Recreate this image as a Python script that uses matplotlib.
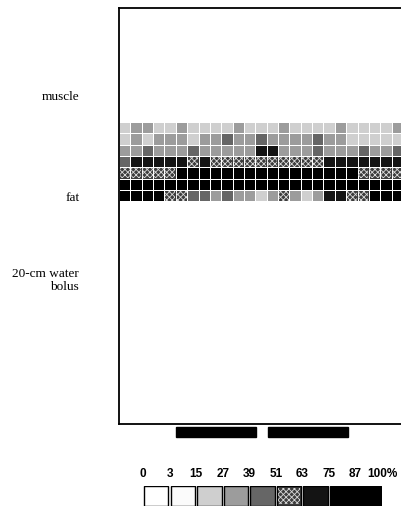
import numpy as np
import matplotlib
matplotlib.use('Agg')
import matplotlib.pyplot as plt
from matplotlib.colors import ListedColormap, BoundaryNorm
from matplotlib.patches import Rectangle

plt.rcParams['hatch.linewidth'] = 0.6

# percent bins used for the grey scale
levels = [0, 3, 15, 27, 39, 51, 63, 75, 87, 100]
level_labels = ['0', '3', '15', '27', '39', '51', '63', '75', '87', '100%']
bin_colors = ['#ffffff', '#fbfbfb', '#cfcfcf', '#9c9c9c', '#666666',
              '#3c3c3c', '#141414', '#000000', '#000000']
checker_bin = 5

# bin index (0..8) of each cell, 7 depth rows x 25 columns, top row first
sar_bins = [
    [2, 3, 3, 2, 2, 3, 2, 2, 2, 2, 3, 2, 2, 2, 3, 2, 2, 2, 2, 3, 2, 2, 2, 2, 3],
    [2, 3, 2, 3, 3, 3, 2, 3, 3, 4, 3, 3, 4, 3, 3, 3, 3, 4, 3, 3, 2, 2, 2, 2, 2],
    [3, 3, 4, 3, 3, 3, 4, 3, 3, 3, 3, 3, 6, 6, 3, 3, 3, 4, 3, 3, 3, 4, 3, 3, 4],
    [4, 6, 6, 6, 6, 6, 5, 6, 5, 5, 5, 5, 5, 5, 5, 5, 5, 5, 6, 6, 6, 6, 6, 6, 6],
    [5, 5, 5, 5, 5, 7, 7, 7, 7, 7, 7, 7, 7, 7, 7, 7, 7, 7, 7, 7, 7, 5, 5, 5, 5],
    [8, 8, 8, 8, 8, 8, 8, 8, 8, 8, 8, 8, 8, 8, 8, 8, 8, 8, 8, 8, 8, 8, 8, 8, 8],
    [7, 7, 7, 7, 5, 5, 4, 4, 3, 4, 3, 3, 2, 3, 5, 3, 2, 3, 6, 6, 5, 5, 7, 7, 7],
]

tissue_labels = ['muscle', 'fat', '20-cm water\nbolus']
tissue_y = [7.9, 16.8, 24.1]

# applicator positions (column units)
applicators = [(5.0, 12.1), (13.1, 20.2)]

sar = np.array(sar_bins)
nrow, ncol = sar.shape
row_top = 10.1

fig = plt.figure(figsize=(4.02, 5.07), dpi=100)
ax = fig.add_axes([119 / 402, 83 / 507, 284 / 402, 416 / 507])

cmap = ListedColormap(bin_colors)
norm = BoundaryNorm(np.arange(-0.5, 9.5, 1), cmap.N)
xe = np.arange(ncol + 1)
ye = row_top + np.arange(nrow + 1)
ax.pcolormesh(xe, ye, sar, cmap=cmap, norm=norm, edgecolors='white', linewidth=0.45)

# checker pattern on the 51-63 % cells
for r in range(nrow):
    for c in range(ncol):
        if sar[r, c] == checker_bin:
            ax.add_patch(Rectangle((c + 0.05, ye[r] + 0.05), 0.9, 0.9, fill=False,
                                   edgecolor='#d8d8d8', linewidth=0, hatch='xxxxxx'))

ax.set_xlim(0, ncol)
ax.set_ylim(36.8, 0)
ax.set_xticks([])
ax.set_yticks([])
for s in ['left', 'top', 'bottom']:
    ax.spines[s].set_linewidth(1.3)
ax.spines['right'].set_visible(False)

for lab, y in zip(tissue_labels, tissue_y):
    ax.text(-3.5, y, lab, ha='right', va='center', fontsize=9.5,
            family='Liberation Serif', linespacing=1.05, multialignment='right')

for x0, x1 in applicators:
    ax.add_patch(Rectangle((x0, 37.05), x1 - x0, 0.9, color='black', clip_on=False))

# grey-scale key
kax = fig.add_axes([143 / 402, 1 / 507, 239 / 402, 20 / 507])
for i, col in enumerate(bin_colors):
    kax.add_patch(Rectangle((i + 0.04, 0), 0.92, 1, facecolor=col,
                            edgecolor='black', linewidth=1.0))
    if i == checker_bin:
        kax.add_patch(Rectangle((i + 0.1, 0.1), 0.8, 0.8, fill=False,
                                edgecolor='#d8d8d8', linewidth=0, hatch='xxxxxx'))
kax.add_patch(Rectangle((7.9, 0), 0.2, 1, color='black'))
kax.set_xlim(0, 9)
kax.set_ylim(0, 1)
kax.axis('off')
for i, lab in enumerate(level_labels):
    kax.text(i, 1.3, lab, ha='center', va='bottom', fontsize=8.5,
             family='Liberation Sans', weight='bold')

fig.savefig('out.png', dpi=100)
